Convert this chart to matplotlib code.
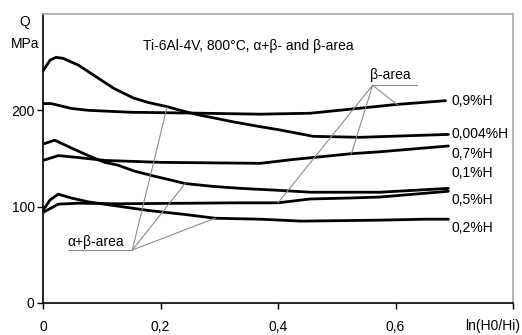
"""
Flow stress Q versus true strain ln(H0/Hi) for Ti-6Al-4V at 800 C,
hydrogen contents 0.004 ... 0.9 %H.
"""

import matplotlib

matplotlib.use("Agg")
import matplotlib.pyplot as plt

plt.rcParams["font.family"] = ["Liberation Sans", "DejaVu Sans"]

# curves, strain vs stress (MPa)
strain_09 = [0, 0.014, 0.048, 0.077, 0.15, 0.27, 0.37, 0.455, 0.52, 0.60, 0.685]
q_09 = [207, 207, 202, 200, 198, 197, 196, 197, 201, 206, 210]

strain_0004 = [0, 0.012, 0.022, 0.034, 0.06, 0.08, 0.1, 0.12, 0.153, 0.18, 0.21, 0.24,
               0.267, 0.30, 0.324, 0.37, 0.40, 0.426, 0.46, 0.54, 0.69]
q_0004 = [241, 252, 255, 254, 247, 239, 231, 223, 213, 208, 204, 199,
          195, 191, 188, 183, 180, 177, 173, 172, 175]

strain_07 = [0, 0.026, 0.06, 0.105, 0.2, 0.37, 0.426, 0.525, 0.574, 0.69]
q_07 = [148, 153, 151, 148, 146, 145, 149, 155, 157, 163]

strain_01 = [0, 0.02, 0.048, 0.077, 0.105, 0.128, 0.155, 0.187, 0.215, 0.242, 0.29, 0.336,
             0.40, 0.455, 0.574, 0.69]
q_01 = [165, 169, 161, 153, 146, 143, 137, 132, 128, 124, 121, 119,
        117, 115, 115, 119]

strain_05 = [0, 0.026, 0.06, 0.128, 0.336, 0.40, 0.455, 0.523, 0.574, 0.69]
q_05 = [94, 102.6, 103.6, 103, 104, 104, 108, 109, 110, 116]

strain_02 = [0, 0.012, 0.026, 0.048, 0.077, 0.128, 0.18, 0.24, 0.293, 0.37, 0.44, 0.574, 0.65, 0.69]
q_02 = [96, 107, 113, 109, 105, 100.5, 96, 92, 88, 87, 85, 86, 87, 87]

curve_labels = ["0,9%H", "0,004%H", "0,7%H", "0,1%H", "0,5%H", "0,2%H"]
label_q = [210, 175, 155, 135, 107, 78]

x_ticks = [0, 0.2, 0.4, 0.6, 0.8]
x_tick_labels = ["0", "0,2", "0,4", "0,6", ""]
y_ticks = [0, 100, 200]

# leader lines of the phase-area annotations: apex then target points on curves
beta_apex = (0.561, 226)
beta_targets = [(0.603, 206), (0.525, 155), (0.40, 104)]
alpha_beta_apex = (0.152, 55)
alpha_beta_targets = [(0.211, 203), (0.242, 124), (0.293, 88)]


def main() -> None:
    fig = plt.figure(figsize=(5.22, 3.35), dpi=100)
    ax = fig.add_axes([43 / 522, 1 - 303 / 335, 470 / 522, 289 / 335])

    curves = [
        (strain_09, q_09),
        (strain_0004, q_0004),
        (strain_07, q_07),
        (strain_01, q_01),
        (strain_05, q_05),
        (strain_02, q_02),
    ]
    for xs, ys in curves:
        ax.plot(xs, ys, color="black", lw=2.0, solid_joinstyle="round", solid_capstyle="round")

    for text, q in zip(curve_labels, label_q):
        ax.text(0.695, q, text, fontsize=10, ha="left", va="center")

    grey = "#8c8c8c"
    for tx, ty in beta_targets:
        ax.plot([beta_apex[0], tx], [beta_apex[1], ty], color=grey, lw=0.8)
    ax.plot([beta_apex[0], 0.637], [beta_apex[1], beta_apex[1]], color=grey, lw=0.8)
    ax.text(0.557, 237, "β-area", fontsize=10, ha="left", va="center")

    for tx, ty in alpha_beta_targets:
        ax.plot([alpha_beta_apex[0], tx], [alpha_beta_apex[1], ty], color=grey, lw=0.8)
    ax.plot([0.043, alpha_beta_apex[0]], [alpha_beta_apex[1], alpha_beta_apex[1]], color=grey, lw=0.8)
    ax.text(0.041, 63, "α+β-area", fontsize=10, ha="left", va="center")

    ax.text(0.17, 267, "Ti-6Al-4V, 800°C, α+β- and β-area", fontsize=10, ha="left", va="center")

    ax.set_xlim(0, 0.8)
    ax.set_ylim(0, 300)
    ax.set_xticks(x_ticks)
    ax.set_xticklabels(x_tick_labels)
    ax.set_yticks(y_ticks)
    ax.tick_params(axis="both", direction="out", length=4, width=1, labelsize=10, colors="black")
    ax.tick_params(axis="x", pad=8)
    ax.tick_params(axis="y", pad=2)

    for side in ["left", "bottom"]:
        ax.spines[side].set_color("black")
        ax.spines[side].set_linewidth(1.2)
    for side in ["top", "right"]:
        ax.spines[side].set_color("#a6a6a6")
        ax.spines[side].set_linewidth(1.2)

    fig.text(520 / 522, 1 - 326 / 335, "ln(H0/Hi)", fontsize=10, ha="right", va="center")
    fig.text(25 / 522, 1 - 22 / 335, "Q", fontsize=10, ha="center", va="center")
    fig.text(25 / 522, 1 - 44 / 335, "MPa", fontsize=10, ha="center", va="center")

    fig.savefig("out.png", dpi=100)
    plt.close(fig)


if __name__ == "__main__":
    main()
